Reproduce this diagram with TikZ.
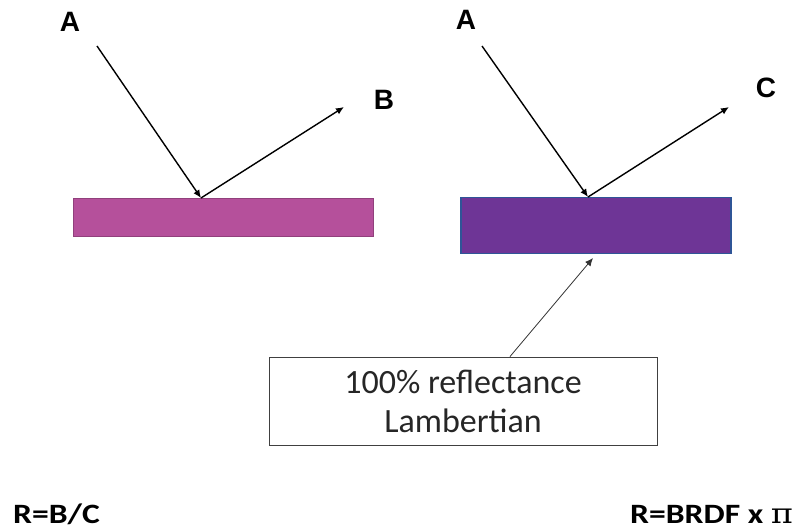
\documentclass[tikz,border=0pt]{standalone}
\usepackage{fontspec}
\usepackage{graphicx}
\setmainfont{Carlito}
\newfontfamily\arialb{Liberation Sans}
\usetikzlibrary{arrows.meta}
\definecolor{pinkbar}{HTML}{B5509B}
\definecolor{purplebar}{HTML}{6E3596}
\definecolor{bluerim}{HTML}{2F5597}
\tikzset{
  ray/.style={-{Latex[length=8pt,width=7pt]}, line width=1.4pt},
  lbl/.style={font=\arialb\bfseries\fontsize{28}{30}\selectfont, inner sep=0pt},
  formula/.style={font=\bfseries\fontsize{28}{30}\selectfont, inner sep=0pt, anchor=west},
}
\begin{document}
\begin{tikzpicture}[x=1pt,y=-1pt]
\useasboundingbox (0,0) rectangle (802,529);
% left
\node[draw=pinkbar!80!black, fill=pinkbar, minimum width=300pt, minimum height=38pt, inner sep=0pt, line width=0.8pt] (barL) at (223,217) {};
\coordinate (hitL) at (201,198);
\coordinate (srcL) at (97,46);
\coordinate (outL) at (344,107);
\node[lbl] (AL) at (70,22) {A};
\node[lbl] (B) at (384,100) {B};
\draw[ray] (srcL) -- (hitL);
\draw[ray] (hitL) -- (outL);
% right
\node[draw=bluerim, fill=purplebar, minimum width=270pt, minimum height=56pt, inner sep=0pt, line width=1.5pt] (barR) at (596,225.5) {};
\coordinate (hitR) at (588,197);
\coordinate (srcR) at (482,46);
\coordinate (outR) at (729,107);
\node[lbl] (AR) at (466,20) {A};
\node[lbl] (C) at (766,88) {C};
\draw[ray] (srcR) -- (hitR);
\draw[ray] (hitR) -- (outR);
% callout
\node[draw=black!75, line width=0.9pt, minimum width=388pt, minimum height=88pt, align=center, font=\fontsize{34}{39}\selectfont, text=black!85, inner sep=0pt] (box) at (463,401) {100\% reflectance\\Lambertian};
\coordinate (tip) at (593,258);
\draw[-{Latex[length=8pt,width=7pt]}, line width=0.8pt, black!80] (box.north -| 510,0) -- (tip);
% formulas
\node[formula] (f1) at (13,514) {\scalebox{1.2}[1]{R=B/C}};
\node[formula] (f2) at (630,514) {\scalebox{1.2}[1]{R=BRDF x {\fontspec{DejaVu Serif}\mdseries π}}};
\end{tikzpicture}
\end{document}
